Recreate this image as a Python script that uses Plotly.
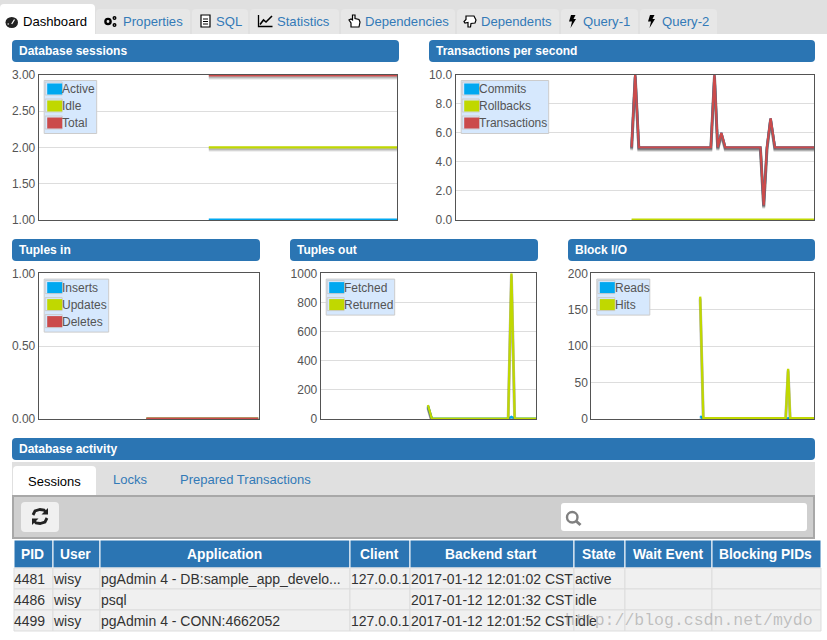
import plotly.graph_objects as go

W, H = 827, 640
BLUE = "#2b75b3"
LINK = "#337ab7"
TXT = "#545454"
C_BLUE, C_LIME, C_RED = "#00a8f0", "#c0d800", "#cb4b4b"

# chart data: sample index in a 0-99 window
sess_x = [47, 99]
sess_active = [1.004, 1.004]
sess_idle = [2, 2]
sess_total = [2.992, 2.992]

tps_x = [48.6, 49.6, 50.6, 70.5, 71.5, 72.4, 73.4, 74.5, 84.2, 85.1, 86.0, 87.0, 88.2, 99]
tps_commits = [5, 10, 5, 5, 10, 5, 6, 5, 5, 1, 5, 7, 5, 5]
tps_rollbacks = [0.02, 0.02, 0.02, 0.02, 0.02, 0.02, 0.02, 0.02, 0.02, 0.02, 0.02, 0.02, 0.02, 0.02]
tps_trans = [5, 10, 5, 5, 10, 5, 6, 5, 5, 1, 5, 7, 5, 5]

tin_x = [48.5, 99]
tin_inserts = [0.002, 0.002]
tin_updates = [0.002, 0.002]
tin_deletes = [0.002, 0.002]

tout_x = [49.3, 51.1, 86.2, 87.7, 89.2, 99]
tout_fetched = [90, 2, 2, 15, 2, 2]
tout_returned = [96, 2, 2, 1000, 2, 2]

bio_x = [48.4, 49.8, 86.4, 87.5, 88.4, 99]
bio_reads = [4, 0, 0, 1, 0, 0]
bio_hits = [168, 1, 1, 69, 1, 1]

tab_names = ["Dashboard", "Properties", "SQL", "Statistics", "Dependencies", "Dependents", "Query-1", "Query-2"]
tab_edges = [0, 95, 191, 249, 340, 456, 560, 639, 718]
tab_text_x = [23, 123, 216, 277, 365, 481, 583, 662]

table_cols = ["PID", "User", "Application", "Client", "Backend start", "State", "Wait Event", "Blocking PIDs"]
col_edges = [14, 53, 100, 350, 410, 574, 625, 712, 821]
col_pid = ["4481", "4486", "4499"]
col_user = ["wisy", "wisy", "wisy"]
col_app = ["pgAdmin 4 - DB:sample_app_develo...", "psql", "pgAdmin 4 - CONN:4662052"]
col_client = ["127.0.0.1", "", "127.0.0.1"]
col_start = ["2017-01-12 12:01:02 CST", "2017-01-12 12:01:32 CST", "2017-01-12 12:01:52 CST"]
col_state = ["active", "idle", "idle"]


def px(x):
    return x / W


def py(y):
    return 1 - y / H


shapes = []
annots = []


def rect(x0, y0, x1, y1, fill, line=None, lw=1):
    shapes.append(dict(type="rect", xref="paper", yref="paper", x0=px(x0), x1=px(x1), y0=py(y0), y1=py(y1),
                       fillcolor=fill, line=dict(color=line, width=lw) if line else dict(width=0), layer="below"))


def round_rect(x0, y0, x1, y1, fill, r=4, top_only=False):
    rb = 0 if top_only else r
    p = f"M{px(x0 + r)},{py(y0)} L{px(x1 - r)},{py(y0)} Q{px(x1)},{py(y0)} {px(x1)},{py(y0 + r)} "
    p += f"L{px(x1)},{py(y1 - rb)} Q{px(x1)},{py(y1)} {px(x1 - rb)},{py(y1)} "
    p += f"L{px(x0 + rb)},{py(y1)} Q{px(x0)},{py(y1)} {px(x0)},{py(y1 - rb)} "
    p += f"L{px(x0)},{py(y0 + r)} Q{px(x0)},{py(y0)} {px(x0 + r)},{py(y0)} Z"
    shapes.append(dict(type="path", xref="paper", yref="paper", path=p, fillcolor=fill, line=dict(width=0), layer="below"))


def icon(points, fill=None, line=None, lw=1, close=True):
    # small toolbar glyph given as pixel points
    p = "M" + " L".join(f"{px(a)},{py(b)}" for a, b in points) + (" Z" if close else "")
    shapes.append(dict(type="path", xref="paper", yref="paper", path=p, fillcolor=fill or "rgba(0,0,0,0)",
                       line=dict(color=line, width=lw) if line else dict(width=0)))


def ring(cx, cy, r, lw):
    shapes.append(dict(type="circle", xref="paper", yref="paper", x0=px(cx - r), x1=px(cx + r), y0=py(cy + r), y1=py(cy - r),
                       fillcolor="rgba(0,0,0,0)", line=dict(color="black", width=lw)))


def text(x, y, s, size=14, color=TXT, bold=False, anchor="left", font="Liberation Sans"):
    annots.append(dict(xref="paper", yref="paper", x=px(x), y=py(y), text=f"<b>{s}</b>" if bold else s, showarrow=False,
                       xanchor=anchor, yanchor="middle", borderpad=0, borderwidth=0,
                       font=dict(family=font, size=size, color=color)))


def panel_title(x0, x1, y0, s):
    round_rect(x0, y0, x1, y0 + 22, BLUE)
    text(x0 + 7, y0 + 11, s, size=12, color="white", bold=True)


def legend_box(x, y, w, labels):
    h = 17 * len(labels) + 2
    shapes.append(dict(type="rect", xref="paper", yref="paper", x0=px(x), x1=px(x + w), y0=py(y), y1=py(y + h),
                       fillcolor="#d6e8fd", line=dict(color="#cccccc", width=1), layer="above"))
    colors = [C_BLUE, C_LIME, C_RED]
    for i, lab in enumerate(labels):
        cy = y + 8.5 + 17 * i
        shapes.append(dict(type="rect", xref="paper", yref="paper", x0=px(x + 1), x1=px(x + 18), y0=py(cy - 7), y1=py(cy + 6),
                           fillcolor="rgba(0,0,0,0)", line=dict(color="#cccccc", width=1), layer="above"))
        shapes.append(dict(type="rect", xref="paper", yref="paper", x0=px(x + 3), x1=px(x + 18), y0=py(cy - 5.5), y1=py(cy + 5.5),
                           fillcolor=colors[i], line=dict(width=0), layer="above"))
        text(x + 18, cy, lab, size=12)


fig = go.Figure()
axis_n = 0


def add_chart(x0, x1, y0, y1, ymin, ymax, dtick, fmt, xs, series, labels, leg_w):
    global axis_n
    axis_n += 1
    sfx = "" if axis_n == 1 else str(axis_n)
    unit = (ymax - ymin) / (y1 - y0)
    colors = [C_BLUE, C_LIME, C_RED]
    for vals, col, lab in zip(series, colors, labels):
        # flot style drop shadow under each line
        for off, alpha, lw in [(3, 0.08, 3), (2, 0.12, 3), (1, 0.14, 3)]:
            fig.add_trace(go.Scatter(x=xs, y=[v - off * unit for v in vals], mode="lines", showlegend=False,
                                     hoverinfo="skip", line=dict(color=f"rgba(0,0,0,{alpha})", width=lw),
                                     xaxis="x" + sfx, yaxis="y" + sfx))
        fig.add_trace(go.Scatter(x=xs, y=vals, mode="lines", name=lab, showlegend=False,
                                 line=dict(color=col, width=2.3), xaxis="x" + sfx, yaxis="y" + sfx))
    fig.layout["xaxis" + sfx] = dict(domain=[px(x0), px(x1)], range=[0, 99], anchor="y" + sfx, showgrid=False, zeroline=False,
                                     automargin=False, showticklabels=False, ticks="", showline=True, mirror=True,
                                     linecolor=TXT, linewidth=1)
    fig.layout["yaxis" + sfx] = dict(domain=[py(y1), py(y0)], range=[ymin, ymax], anchor="x" + sfx, dtick=dtick, tick0=ymin,
                                     automargin=False, tickformat=fmt, showgrid=True, gridcolor="#dddddd", gridwidth=1,
                                     zeroline=False, ticks="", showline=True, mirror=True, linecolor=TXT, linewidth=1,
                                     tickfont=dict(family="Liberation Sans", size=12, color=TXT))
    legend_box(x0 + 5.5, y0 + 5.8, leg_w, labels)


# top tab strip
rect(0, 0, W, 34, "#e0e0e0")
for i, name in enumerate(tab_names):
    if i == 0:
        round_rect(0, 4, 95, 34, "white", top_only=True)
    else:
        round_rect(tab_edges[i] + 1, 9, tab_edges[i + 1] - 1, 34, "#e7e7e7", top_only=True)
    text(tab_text_x[i], 21.5, name, size=13.1, color="black" if i == 0 else LINK)

# dashboard icon
shapes.append(dict(type="circle", xref="paper", yref="paper", x0=px(5.5), x1=px(18), y0=py(17), y1=py(28),
                   fillcolor="#222222", line=dict(width=0)))
icon([(11.7, 24), (14.5, 19.5)], line="white", lw=1.2, close=False)
icon([(7.5, 24), (9, 24)], line="white", lw=1.2, close=False)
# Properties gears
ring(108, 21.5, 2.6, 2.4)
ring(114.5, 18, 1.3, 1.4)
ring(114.5, 25, 1.3, 1.4)
# SQL icon, a page with lines
rect(201, 15, 210, 27, "white", "black", 1.2)
for ly in [19, 21.5, 24]:
    icon([(203, ly), (208, ly)], line="black", lw=1, close=False)
# Statistics icon
icon([(258.5, 15), (258.5, 26.5), (272.5, 26.5)], line="black", lw=1.3, close=False)
icon([(260, 24.5), (263.5, 20), (266, 22), (272, 16)], line="black", lw=1.6, close=False)
# Dependencies and Dependents hands
icon([(351, 27), (351, 23), (349, 20), (351, 19), (352.5, 20), (352.5, 15), (355, 15), (355, 18.5), (359, 19.5),
      (360, 22), (359, 27)], fill="white", line="black", lw=1.2)
icon([(466, 16), (474, 16), (476, 20), (475, 23), (471, 23.5), (470.5, 27), (468, 27), (468, 22.5), (465, 23), (464, 21.5), (466, 19.5)],
     fill="white", line="black", lw=1.2)
# Query tool bolts
for bx in [572, 651]:
    icon([(bx - 1, 15), (bx + 3.5, 15), (bx + 1.5, 19), (bx + 4, 19), (bx - 1.5, 28), (bx, 21.5), (bx - 3, 21.5)], fill="black")

# panel headers
panel_title(12, 399, 40, "Database sessions")
panel_title(429, 815, 40, "Transactions per second")
panel_title(12, 260, 239, "Tuples in")
panel_title(290, 538, 239, "Tuples out")
panel_title(568, 815, 239, "Block I/O")
panel_title(12, 815, 438, "Database activity")

add_chart(38.7, 397, 74.7, 220, 1, 3, 0.5, ".2f", sess_x, [sess_active, sess_idle, sess_total], ["Active", "Idle", "Total"], 52.5)
add_chart(455.7, 814, 74.7, 220, 0, 10, 2, ".1f", tps_x, [tps_commits, tps_rollbacks, tps_trans], ["Commits", "Rollbacks", "Transactions"], 87.5)
add_chart(38.7, 258.5, 273.3, 419, 0, 1, 0.5, ".2f", tin_x, [tin_inserts, tin_updates, tin_deletes], ["Inserts", "Updates", "Deletes"], 64.5)
add_chart(320.7, 536, 273.3, 419, 0, 1000, 200, "d", tout_x, [tout_fetched, tout_returned], ["Fetched", "Returned"], 68.5)
add_chart(591.3, 814, 273.3, 419, 0, 200, 50, "d", bio_x, [bio_reads, bio_hits], ["Reads", "Hits"], 53)

# activity panel: sub tabs and toolbar
rect(12, 462, 815, 496, "#e0e0e0")
round_rect(13, 466, 96, 496, "white", top_only=True)
text(54.5, 481, "Sessions", size=13, color="black", anchor="center")
text(113, 479.5, "Locks", size=13, color=LINK)
text(180, 479.5, "Prepared Transactions", size=13, color=LINK)
rect(13, 496, 814, 538, "#cfcfcf", "#a8a8a8", 2)
round_rect(21, 502, 59, 532, "#f0f0f0")
# refresh glyph
icon([(33, 515), (35, 511), (40, 509.5), (44, 510), (46, 512.5)], line="#222222", lw=2.8, close=False)
icon([(48, 508), (48, 514.5), (41.5, 514.5)], fill="#222222")
icon([(47, 518), (45, 522), (40, 523.5), (36, 523), (34, 520.5)], line="#222222", lw=2.8, close=False)
icon([(32, 525), (32, 518.5), (38.5, 518.5)], fill="#222222")
round_rect(561, 503, 807, 531, "white", r=3)
shapes.append(dict(type="circle", xref="paper", yref="paper", x0=px(567), x1=px(577.5), y0=py(522.5), y1=py(512),
                   fillcolor="rgba(0,0,0,0)", line=dict(color="#808080", width=2.4)))
icon([(576, 521), (580.5, 525)], line="#808080", lw=3, close=False)

# session table
rows = list(zip(col_pid, col_user, col_app, col_client, col_start, col_state, [""] * 3, [""] * 3))
for i, head in enumerate(table_cols):
    x0, x1 = col_edges[i], col_edges[i + 1]
    rect(x0, 540, x1, 568, BLUE, "white", 1)
    text((x0 + x1) / 2 - 1, 554, head, size=13.8, color="white", bold=True, anchor="center")
    for r, row in enumerate(rows):
        ry = 568 + 21 * r
        rect(x0, ry, x1, ry + 21, "#f0f0f0", "#dddddd", 1)
        if row[i]:
            text(x0 + (0.7 if i >= 2 else -0.3), ry + 10.5, row[i], size=14, color="#333333")

# image watermark
text(565, 620, "http://blog.csdn.net/mydo", size=16.5, color="rgba(130,130,130,0.45)", font="Liberation Mono")

fig.update_layout(width=W, height=H, margin=dict(l=0, r=0, t=0, b=0), paper_bgcolor="white", plot_bgcolor="white",
                  showlegend=False, shapes=shapes, annotations=annots)
fig.write_html("out.html", config=dict(displayModeBar=False),
               post_script="document.body.style.margin='0';document.body.style.overflow='hidden';")
